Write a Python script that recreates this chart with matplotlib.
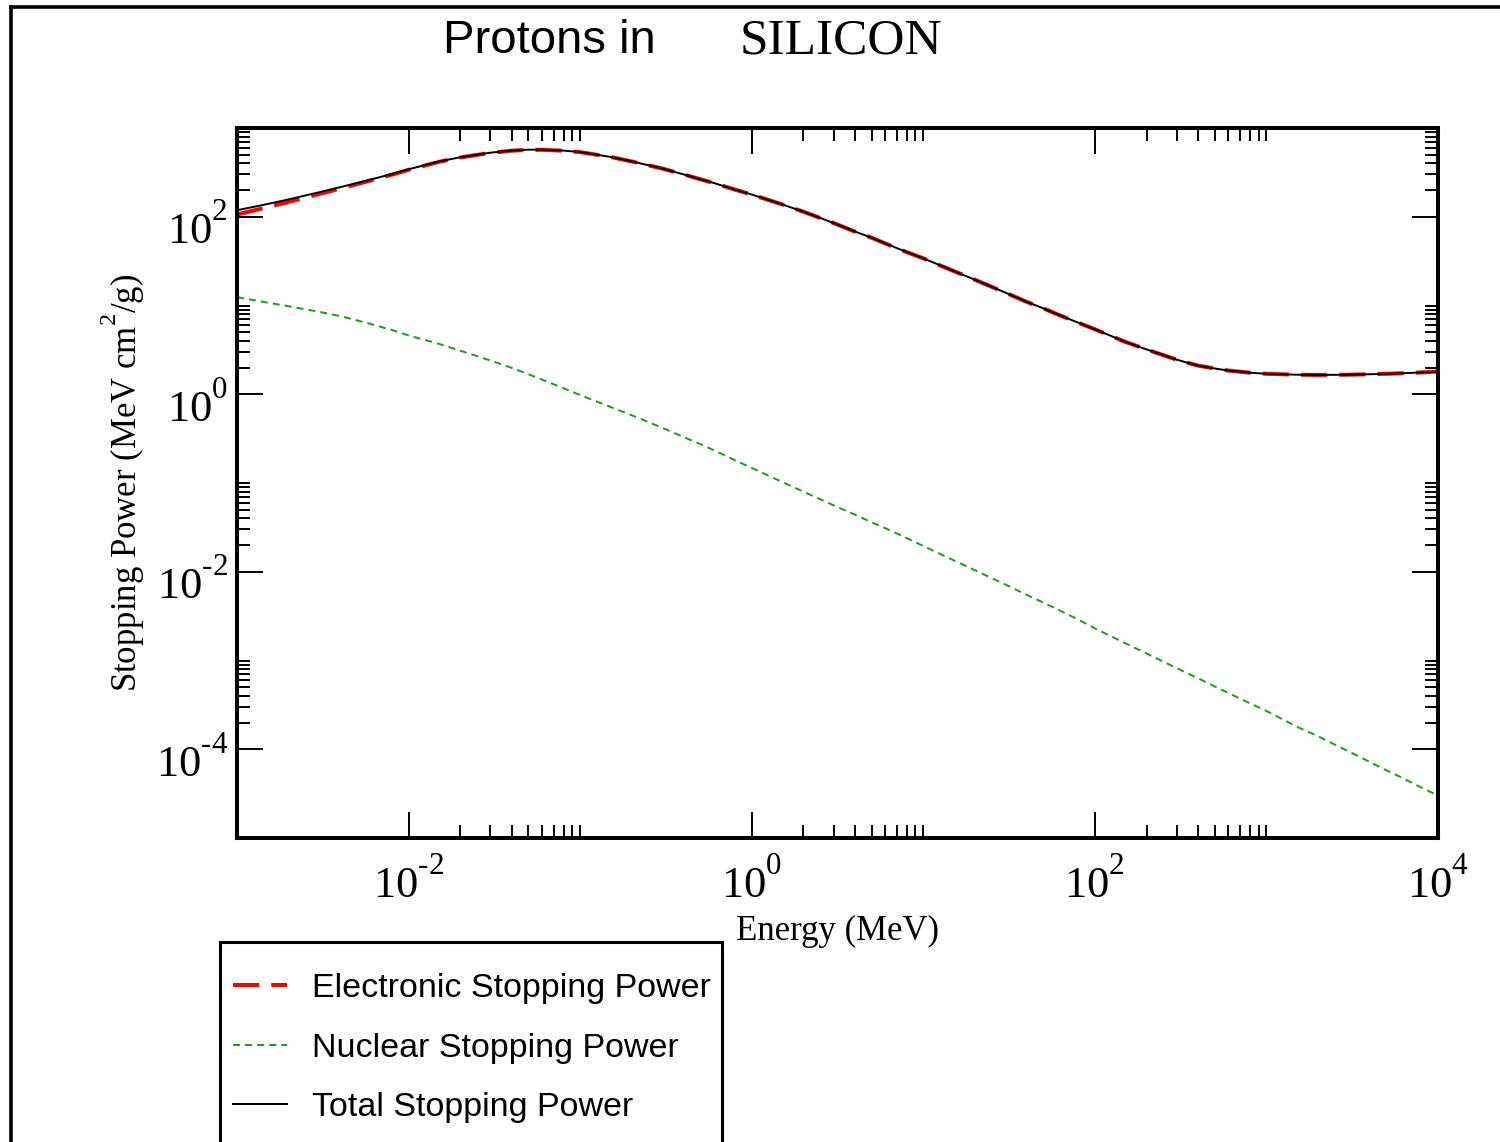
import matplotlib
matplotlib.use("Agg")
import matplotlib.pyplot as plt
import matplotlib._mathtext as mathtext_impl
from matplotlib.lines import Line2D
from matplotlib.patches import Rectangle
from matplotlib.transforms import ScaledTranslation
from matplotlib.ticker import FixedLocator, FuncFormatter, NullFormatter
import numpy as np

# proton kinetic energy grid (MeV)
energy = [0.001, 0.0015, 0.002, 0.003, 0.004, 0.005, 0.006, 0.008,
          0.01, 0.015, 0.02, 0.03, 0.04, 0.05, 0.06, 0.08,
          0.1, 0.15, 0.2, 0.3, 0.4, 0.5, 0.6, 0.8,
          1.0, 1.5, 2.0, 3.0, 4.0, 5.0, 6.0, 8.0,
          10.0, 15.0, 20.0, 30.0, 40.0, 50.0, 60.0, 80.0,
          100.0, 150.0, 200.0, 300.0, 400.0, 500.0, 600.0, 800.0,
          1000.0, 1500.0, 2000.0, 3000.0, 4000.0, 5000.0, 6000.0, 8000.0,
          10000.0]

# electronic stopping power (MeV cm2/g)
electronic = [106, 128, 147, 180, 208, 233, 256, 298,
              338, 415, 465, 525, 555, 568, 568, 555,
              535, 472, 420, 350, 300, 265, 240, 202,
              178, 138, 114, 85, 68, 58, 50, 40,
              34, 24.5, 19.5, 14.0, 11.0, 9.3, 8.0, 6.4,
              5.4, 3.9, 3.2, 2.45, 2.1, 1.95, 1.85, 1.75,
              1.70, 1.66, 1.65, 1.66, 1.68, 1.70, 1.72, 1.76,
              1.80]

# nuclear stopping power (MeV cm2/g)
nuclear = [12.4, 10.8, 9.8, 8.5, 7.6, 6.8, 6.2, 5.3,
           4.6, 3.7, 3.1, 2.4, 1.98, 1.68, 1.46, 1.17,
           0.98, 0.72, 0.58, 0.42, 0.33, 0.275, 0.235, 0.18,
           0.148, 0.103, 0.080, 0.056, 0.044, 0.036, 0.031, 0.024,
           0.0195, 0.0135, 0.0104, 0.0072, 0.0055, 0.0045, 0.0038, 0.0029,
           0.0023, 0.00157, 0.0012, 0.00082, 0.00063, 0.00051, 0.00043, 0.00033,
           0.00027, 0.00018, 0.00014, 9.5e-5, 7.2e-5, 5.8e-5, 4.9e-5, 3.7e-5,
           3.0e-5]

total = np.array(electronic) + np.array(nuclear)

plt.rcParams['mathtext.fontset'] = 'custom'
plt.rcParams['mathtext.rm'] = 'Liberation Serif'
plt.rcParams['mathtext.it'] = 'Liberation Serif:italic'
plt.rcParams['mathtext.bf'] = 'Liberation Serif:bold'
# raise exponents higher above the digits
mathtext_impl.FontConstantsBase.sup1 = 1.15

W, H = 1500, 1142
fig = plt.figure(figsize=(W / 100, H / 100), dpi=100)
ax = fig.add_axes([237 / W, 1 - 838 / H, 1201 / W, 710 / H])

l_el, = ax.plot(energy, electronic, color='red', lw=2.9, ls=(0, (6.5, 3.0)))
l_nu, = ax.plot(energy, nuclear, color='#1f9e1f', lw=1.45, ls=(0, (3.5, 2.5)))
l_tot, = ax.plot(energy, total, color='black', lw=1.4)

ax.set_xscale('log')
ax.set_yscale('log')
ax.set_xlim(1e-3, 1e4)
ax.set_ylim(1e-5, 1e3)

# xmgrace-style ticks: majors every two decades, minors 2..10 x major
def minor_ticks(exps):
    return [k * 10.0 ** e for e in exps for k in range(2, 11)]

ax.xaxis.set_major_locator(FixedLocator([1e-2, 1e0, 1e2, 1e4]))
ax.xaxis.set_minor_locator(FixedLocator(minor_ticks([-2, 0, 2])))
ax.yaxis.set_major_locator(FixedLocator([1e-4, 1e-2, 1e0, 1e2]))
ax.yaxis.set_minor_locator(FixedLocator(minor_ticks([-4, -2, 0, 2])))

def pow_label(v, pos):
    e = int(round(np.log10(v)))
    if e < 0:
        return r'$10^{\text{-}%d}$' % -e
    return r'$10^{%d}$' % e

ax.xaxis.set_major_formatter(FuncFormatter(pow_label))
ax.yaxis.set_major_formatter(FuncFormatter(pow_label))
ax.xaxis.set_minor_formatter(NullFormatter())
ax.yaxis.set_minor_formatter(NullFormatter())

ax.tick_params(which='both', direction='in', top=True, right=True, width=1.4,
               labelsize=32)
ax.tick_params(which='major', length=18.5)
ax.tick_params(which='minor', length=9.2)
ax.tick_params(axis='x', which='major', pad=14)
ax.tick_params(axis='y', which='major', pad=6.5)

# drop the y labels a little so the digits sit under the tick
shift = ScaledTranslation(0, -5 / 72, fig.dpi_scale_trans)
for t in ax.yaxis.get_major_ticks():
    t.label1.set_transform(t.label1.get_transform() + shift)

for sp in ax.spines.values():
    sp.set_linewidth(2.9)

ax.set_xlabel('Energy (MeV)', family='Liberation Serif', fontsize=25)
ax.set_ylabel('Stopping Power (MeV cm$^2$/g)', family='Liberation Serif', fontsize=25)
ax.xaxis.set_label_coords(0.5, -0.109)
ax.yaxis.set_label_coords(-0.075, 0.5)

fig.text(443 / W, 1 - 53 / H, 'Protons in', family='Liberation Sans',
         fontsize=34, va='baseline', ha='left')
fig.text(740 / W, 1 - 54 / H, 'SILICON', family='Liberation Serif',
         fontsize=37, va='baseline', ha='left')

leg = fig.legend([l_el, l_nu, l_tot],
                 ['Electronic Stopping Power', 'Nuclear Stopping Power',
                  'Total Stopping Power'],
                 loc='upper left', bbox_to_anchor=(233 / W, 1 - 973 / H),
                 prop={'family': 'Liberation Sans', 'size': 24.5},
                 frameon=False, borderpad=0, labelspacing=0.84,
                 handlelength=1.6, handletextpad=0.72, borderaxespad=0)

# legend box runs off the bottom of the page
fig.add_artist(Rectangle((220 / W, -0.05), 502 / W, 0.05 + 1 - 942 / H,
                         transform=fig.transFigure, fill=False,
                         edgecolor='black', lw=2.2))

# page frame along the left and top edges
fig.add_artist(Line2D([11 / W, 11 / W], [0, 1 - 6.5 / H], transform=fig.transFigure,
                      color='black', lw=2.6))
fig.add_artist(Line2D([11 / W, 1], [1 - 6.5 / H, 1 - 6.5 / H], transform=fig.transFigure,
                      color='black', lw=2.6))

fig.savefig('out.png', dpi=100)
